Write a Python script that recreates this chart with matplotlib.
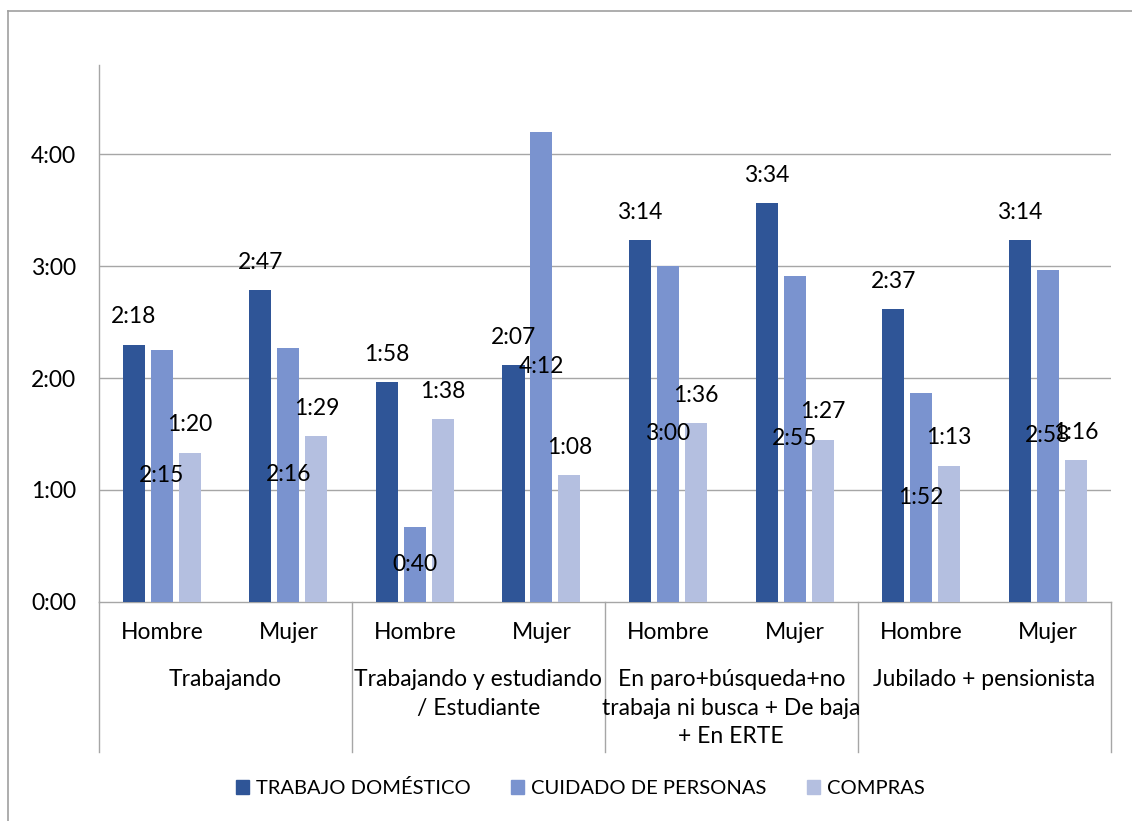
import numpy as np
import matplotlib.pyplot as plt
from matplotlib.lines import Line2D
from matplotlib.patches import Patch

plt.rcParams['font.family'] = ['Lato', 'DejaVu Sans']

# Categories: occupation groups, each split by sex
groups = ['Trabajando', 'Trabajando y estudiando\n/ Estudiante',
          'En paro+búsqueda+no\ntrabaja ni busca + De baja\n+ En ERTE',
          'Jubilado + pensionista']
sexes = ['Hombre', 'Mujer']

# Average daily time (h:mm) per activity
trabajo_domestico = ['2:18', '2:47', '1:58', '2:07', '3:14', '3:34', '2:37', '3:14']
cuidado_personas = ['2:15', '2:16', '0:40', '4:12', '3:00', '2:55', '1:52', '2:58']
compras = ['1:20', '1:29', '1:38', '1:08', '1:36', '1:27', '1:13', '1:16']

series_names = ['TRABAJO DOMÉSTICO', 'CUIDADO DE PERSONAS', 'COMPRAS']
colors = ['#2F5597', '#7A93CF', '#B4BFE0']


def to_hours(txt):
    h, m = txt.split(':')
    return int(h) + int(m) / 60


W, H = 1132, 821
fig = plt.figure(figsize=(W / 100, H / 100), dpi=100)

# plot area in pixels
x0, x1 = 98.5, 1111
y_top, y_zero = 65, 601.7
ax = fig.add_axes([x0 / W, 1 - y_zero / H, (x1 - x0) / W, (y_zero - y_top) / H])


def py(p):
    # pixel row -> axes fraction
    return (y_zero - p) / (y_zero - y_top)


n = len(trabajo_domestico)
xc = np.arange(n) + 0.5
offsets = [-0.221, 0, 0.221]
bar_w = 0.174
fs = 16.5

all_series = [trabajo_domestico, cuidado_personas, compras]
for k, (vals, col) in enumerate(zip(all_series, colors)):
    hrs = [to_hours(v) for v in vals]
    ax.bar(xc + offsets[k], hrs, width=bar_w, color=col, zorder=3)
    for x, h, lab in zip(xc + offsets[k], hrs, vals):
        if k == 1:
            # care labels sit in the middle of the bar
            ax.text(x, h / 2, lab, ha='center', va='center', fontsize=fs, zorder=5)
        else:
            ax.annotate(lab, (x, h), xytext=(0, 20), textcoords='offset points',
                        ha='center', va='center', fontsize=fs, zorder=5)

ax.set_xlim(0, n)
ax.set_ylim(0, 4.8)
ax.set_yticks([0, 1, 2, 3, 4])
ax.set_yticklabels(['0:00', '1:00', '2:00', '3:00', '4:00'], fontsize=fs)
ax.tick_params(axis='y', length=0, pad=16)
ax.set_xticks([])

grid_col = '#A6A6A6'
for y in [1, 2, 3, 4]:
    ax.axhline(y, color=grid_col, lw=1, zorder=1)

for s in ['top', 'right']:
    ax.spines[s].set_visible(False)
ax.spines['left'].set_color(grid_col)
ax.spines['bottom'].set_color(grid_col)
ax.spines['left'].set_linewidth(1)
ax.spines['bottom'].set_linewidth(1)

# multi-level category axis
trans = ax.get_xaxis_transform()
for g in range(len(groups) + 1):
    ax.add_line(Line2D([2 * g, 2 * g], [0, py(752)], transform=trans,
                       color=grid_col, lw=1, clip_on=False))
for i in range(n):
    ax.text(xc[i], py(632), sexes[i % 2], transform=trans, ha='center',
            va='center', fontsize=fs)
for g, name in enumerate(groups):
    for j, line in enumerate(name.split('\n')):
        ax.text(2 * g + 1, py(679.3 + 28.7 * j), line, transform=trans,
                ha='center', va='center', fontsize=fs)

handles = [Patch(color=c) for c in colors]
fig.legend(handles, series_names, loc='center', ncol=3, frameon=False,
           bbox_to_anchor=(580.5 / W, 1 - 788 / H), fontsize=14.5,
           handlelength=0.65, handleheight=0.65, handletextpad=0.35,
           columnspacing=2.0)

# chart frame
fig.add_artist(Line2D([8 / W, 1], [1 - 11 / H, 1 - 11 / H], color='#A0A0A0', lw=1.2))
fig.add_artist(Line2D([8 / W, 8 / W], [0, 1 - 11 / H], color='#A0A0A0', lw=1.2))

fig.savefig('out.png', dpi=100)
